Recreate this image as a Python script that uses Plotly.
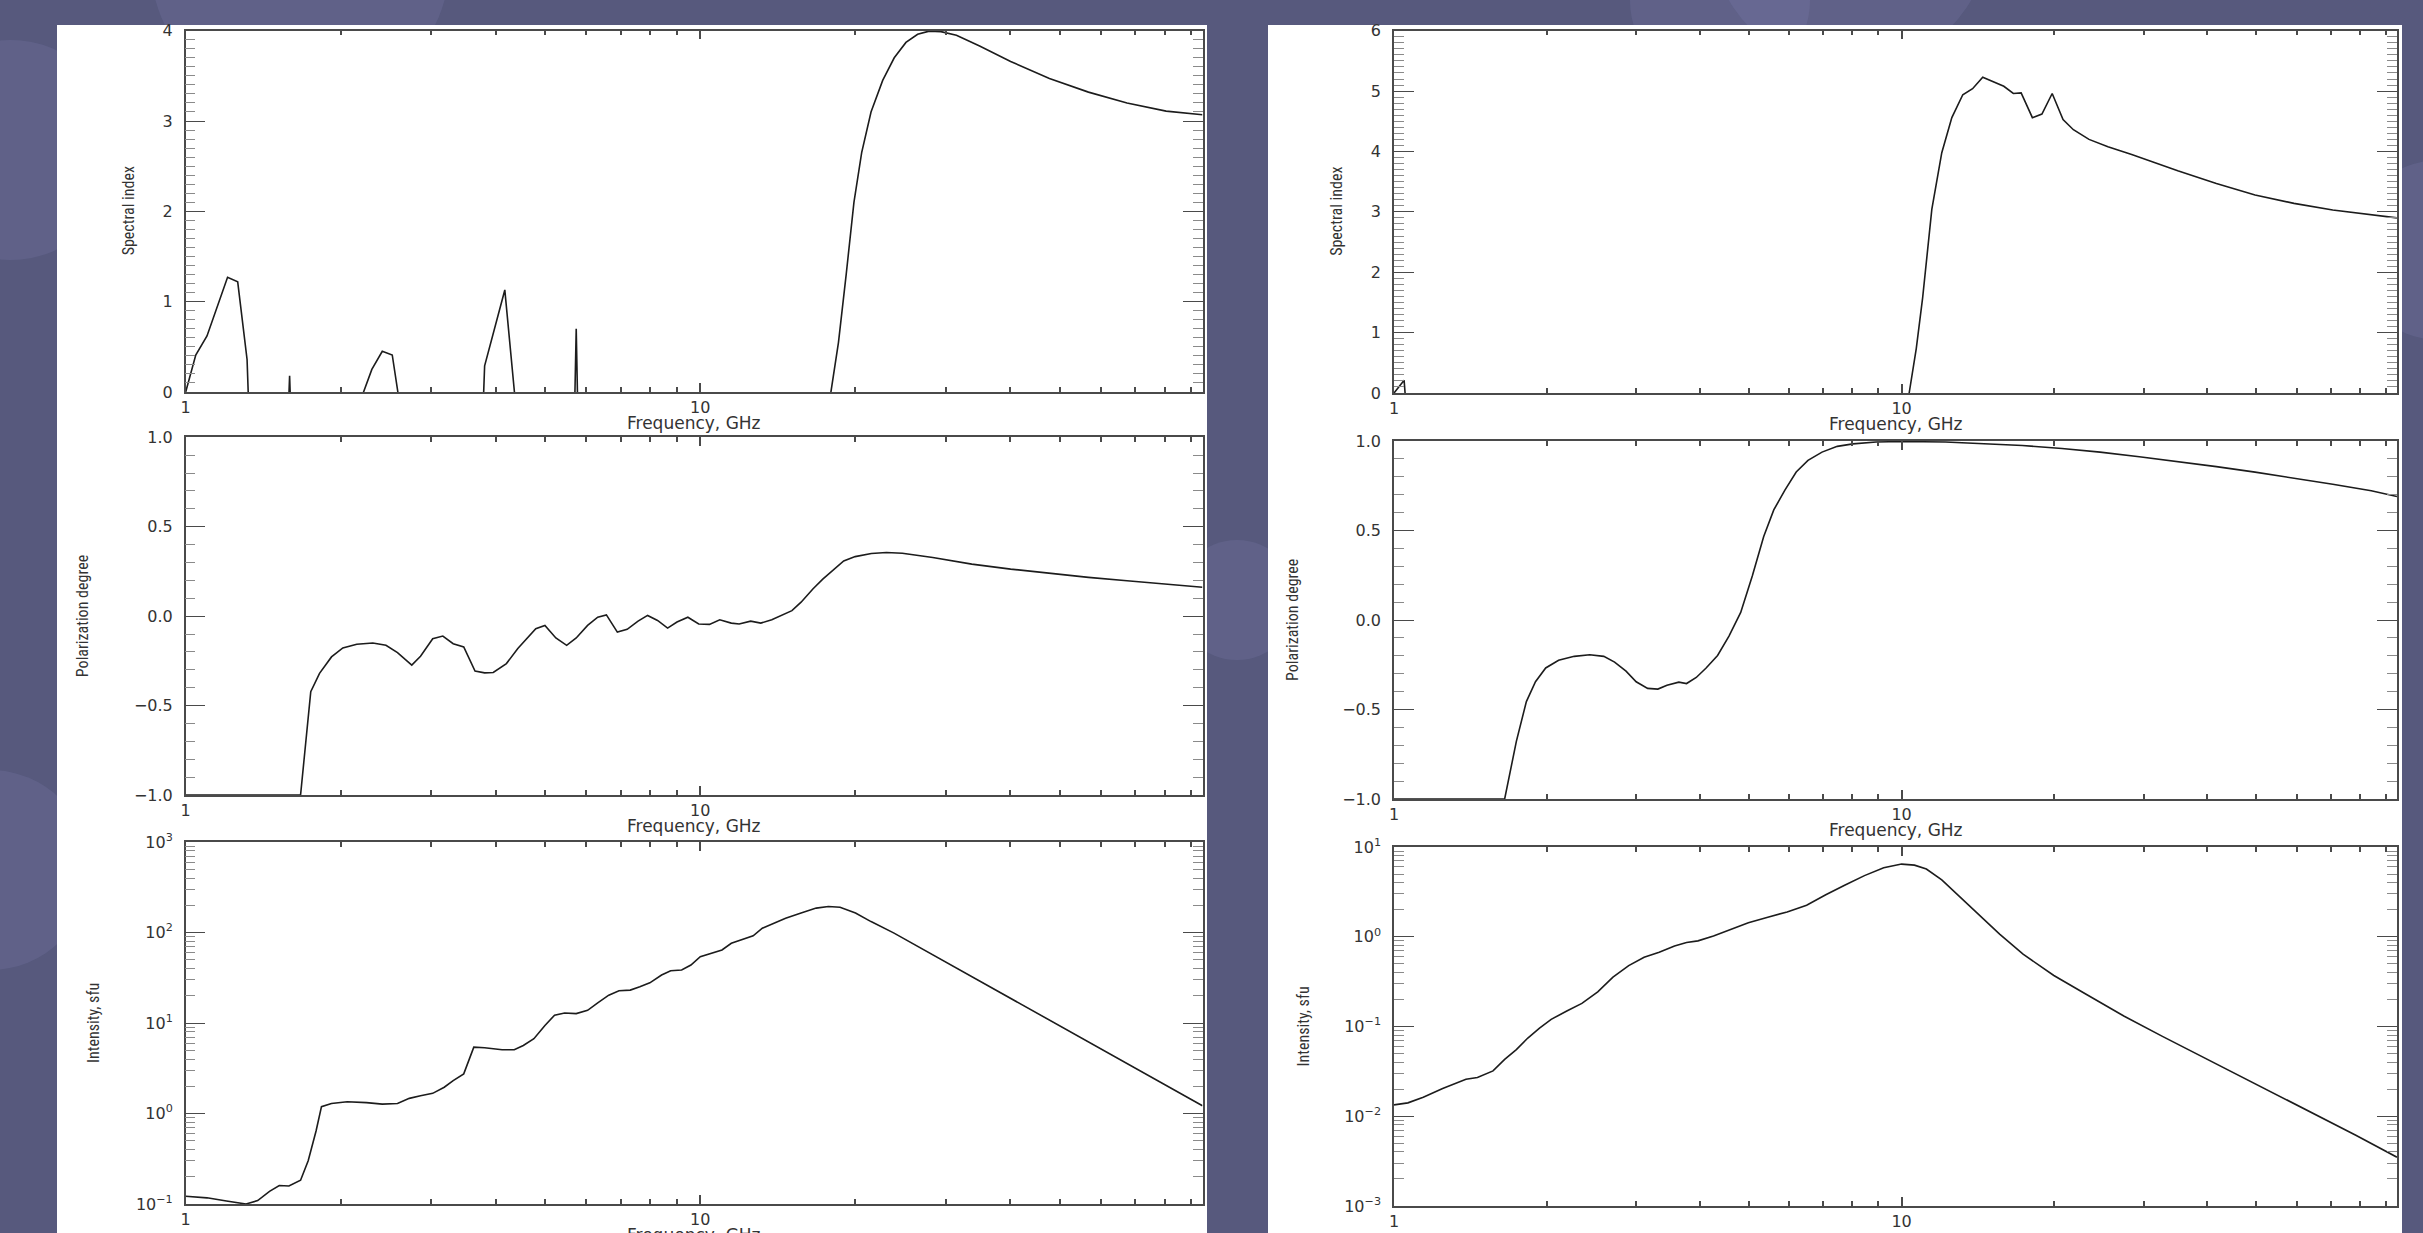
import plotly.graph_objects as go

W, H = 2423, 1233

# ---------------- data ----------------
# Left column
freq_lt = [1.0, 1.046, 1.10, 1.15, 1.206, 1.262, 1.316, 1.38, 1.52, 1.592, 1.66, 2.10, 2.20, 2.30, 2.41,
           2.52, 2.64, 2.80, 3.63, 3.81, 3.99, 4.17, 4.37, 4.60, 5.48, 5.74, 6.00, 17.0, 17.92, 18.56,
           19.21, 19.89, 20.59, 21.47, 22.62, 23.82, 25.1, 26.45, 27.86, 29.35, 31.46, 34.9, 40.1, 47.7,
           56.8, 67.5, 80.4, 94.6]
index_lt = [0.0, 0.41, 0.62, 0.94, 1.27, 1.22, 0.36, -3.0, -3.0, 0.18, -3.0, -3.0, -0.05, 0.25, 0.45,
            0.41, -0.35, -3.0, -3.0, 0.29, 0.71, 1.13, -0.1, -3.0, -5.0, 0.70, -5.0, -2.0, -0.02, 0.55,
            1.3, 2.1, 2.65, 3.1, 3.45, 3.7, 3.87, 3.96, 3.995, 3.99, 3.95, 3.83, 3.66, 3.47,
            3.32, 3.2, 3.11, 3.07]

freq_lm = [1.0, 1.672, 1.75, 1.82, 1.92, 2.02, 2.15, 2.31, 2.45, 2.58, 2.75, 2.86, 3.02, 3.16, 3.31,
           3.47, 3.65, 3.81, 3.96, 4.2, 4.42, 4.79, 4.99, 5.24, 5.50, 5.74, 6.04, 6.32, 6.57, 6.90,
           7.21, 7.57, 7.90, 8.26, 8.64, 9.01, 9.46, 9.93, 10.42, 10.91, 11.49, 11.9, 12.53, 13.11,
           13.77, 14.39, 15.07, 15.7, 16.55, 17.3, 18.2, 19.0, 20.0, 21.5, 23.0, 24.7, 28.3, 33.7,
           40.1, 47.7, 56.8, 67.5, 80.4, 94.6]
pol_lm = [-1.0, -1.0, -0.422, -0.32, -0.228, -0.178, -0.157, -0.15, -0.163, -0.204, -0.274, -0.224,
          -0.126, -0.111, -0.154, -0.172, -0.307, -0.317, -0.315, -0.265, -0.181, -0.07, -0.052,
          -0.122, -0.163, -0.122, -0.052, -0.006, 0.007, -0.089, -0.074, -0.028, 0.004, -0.024,
          -0.067, -0.033, -0.006, -0.044, -0.046, -0.020, -0.039, -0.044, -0.028, -0.039, -0.02,
          0.004, 0.031, 0.078, 0.152, 0.207, 0.263, 0.309, 0.333, 0.35, 0.356, 0.352, 0.328, 0.291,
          0.263, 0.239, 0.217, 0.198, 0.178, 0.162]

freq_lb = [1.0, 1.10, 1.2, 1.31, 1.38, 1.455, 1.52, 1.587, 1.672, 1.73, 1.792, 1.836, 1.92, 2.06, 2.245,
           2.41, 2.58, 2.72, 2.86, 3.02, 3.18, 3.31, 3.47, 3.63, 3.81, 4.12, 4.35, 4.53, 4.75, 4.99,
           5.21, 5.45, 5.74, 6.04, 6.32, 6.64, 6.95, 7.31, 7.63, 7.98, 8.41, 8.76, 9.2, 9.59, 10.0,
           10.53, 11.02, 11.49, 12.1, 12.67, 13.2, 13.9, 14.65, 15.7, 16.8, 17.74, 18.69, 20.03,
           21.47, 23.8, 28.35, 33.7, 40.1, 47.7, 56.8, 67.5, 80.4, 94.6]
flux_lb = [0.122, 0.117, 0.108, 0.1, 0.109, 0.138, 0.16, 0.158, 0.183, 0.30, 0.64, 1.19, 1.29, 1.35,
           1.32, 1.27, 1.29, 1.47, 1.57, 1.67, 1.95, 2.31, 2.74, 5.41, 5.32, 5.06, 5.06, 5.65, 6.7,
           9.4, 12.2, 12.9, 12.7, 13.8, 16.7, 20.3, 22.7, 23.1, 25.1, 27.8, 33.9, 37.8, 38.5, 43.7,
           54.1, 58.9, 64.1, 76.1, 84.3, 91.8, 111.7, 127.0, 144.0, 164.0, 186.0, 194.0, 190.0,
           164.0, 132.0, 98.4, 56.5, 32.4, 18.6, 10.7, 6.15, 3.53, 2.03, 1.22]

# Right column
freq_rt = [1.0, 1.047, 1.096, 10.0, 10.35, 10.69, 11.0, 11.47, 12.0, 12.56, 13.2, 13.8, 14.45, 15.07,
           15.9, 16.6, 17.2, 18.1, 18.9, 19.8, 20.8, 21.8, 23.4, 25.5, 28.4, 35.0, 41.7, 49.7, 59.3,
           70.7, 84.2, 94.6]
index_rt = [0.0, 0.21, -2.0, -2.0, 0.0, 0.74, 1.57, 3.04, 3.98, 4.56, 4.94, 5.04, 5.23, 5.16,
            5.08, 4.96, 4.97, 4.56, 4.62, 4.96, 4.53, 4.36, 4.2, 4.08, 3.95, 3.68, 3.47, 3.28, 3.14,
            3.03, 2.95, 2.9]

freq_rm = [1.0, 1.652, 1.742, 1.823, 1.9, 1.99, 2.11, 2.265, 2.43, 2.59, 2.72, 2.865, 3.0, 3.16, 3.31,
           3.45, 3.64, 3.77, 3.94, 4.12, 4.34, 4.57, 4.82, 5.08, 5.35, 5.6, 5.89, 6.2, 6.54, 6.97,
           7.47, 8.02, 8.91, 10.0, 12.2, 14.6, 17.3, 20.7, 24.6, 29.4, 35.0, 41.7, 49.7, 59.3, 70.7,
           84.2, 94.6]
pol_rm = [-1.0, -1.0, -0.678, -0.456, -0.345, -0.268, -0.225, -0.203, -0.194, -0.203, -0.235, -0.286,
          -0.345, -0.382, -0.386, -0.364, -0.347, -0.355, -0.321, -0.268, -0.198, -0.09, 0.042, 0.246,
          0.467, 0.615, 0.726, 0.827, 0.892, 0.938, 0.97, 0.984, 0.994, 0.997, 0.994, 0.986, 0.975,
          0.958, 0.938, 0.912, 0.886, 0.857, 0.826, 0.793, 0.758, 0.722, 0.69]

freq_rb = [1.0, 1.065, 1.142, 1.247, 1.386, 1.46, 1.567, 1.652, 1.742, 1.835, 1.935, 2.04, 2.19, 2.345,
           2.52, 2.70, 2.9, 3.11, 3.33, 3.57, 3.77, 3.97, 4.26, 4.57, 4.99, 5.45, 5.95, 6.5, 7.09,
           7.74, 8.45, 9.22, 10.0, 10.6, 11.19, 12.0, 12.88, 14.06, 15.6, 17.35, 19.95, 22.96, 27.4,
           32.65, 38.9, 46.4, 55.2, 65.9, 78.5, 94.6]
flux_rb = [0.0134, 0.0141, 0.0163, 0.0204, 0.0259, 0.027, 0.032, 0.043, 0.0553, 0.0744, 0.096, 0.12,
           0.149, 0.181, 0.243, 0.355, 0.477, 0.59, 0.67, 0.79, 0.863, 0.9, 1.02, 1.18, 1.43, 1.65,
           1.89, 2.24, 2.94, 3.78, 4.8, 5.87, 6.45, 6.28, 5.68, 4.3, 2.94, 1.85, 1.07, 0.64, 0.37,
           0.233, 0.131, 0.0776, 0.0467, 0.0282, 0.017, 0.0102, 0.00615, 0.0035]

x_tick_vals = [1, 10]
x_tick_text = ["1", "10"]
x_minor_vals = [2, 3, 4, 5, 6, 7, 8, 9, 20, 30, 40, 50, 60, 70, 80, 90]
x_title = "Frequency, GHz"
y_titles = ["Spectral index", "Polarization degree", "Intensity, sfu"]
log_lb_vals = [0.1, 1, 10, 100, 1000]
log_lb_text = ["10<sup>−1</sup>", "10<sup>0</sup>", "10<sup>1</sup>", "10<sup>2</sup>", "10<sup>3</sup>"]
log_rb_vals = [0.001, 0.01, 0.1, 1, 10]
log_rb_text = ["10<sup>−3</sup>", "10<sup>−2</sup>", "10<sup>−1</sup>", "10<sup>0</sup>", "10<sup>1</sup>"]

# ---------------- layout geometry (pixels) ----------------
LX = (185.7, 1202.5)
RX = (1394.0, 2397.0)
L_ROWS = [(30.7, 392.0), (437.3, 795.0), (842.0, 1204.0)]
R_ROWS = [(30.7, 393.0), (441.0, 799.0), (847.0, 1206.0)]
L_YTITLE_X = (128, 82, 93)
R_YTITLE_X = (1337, 1292, 1303)

def xd(a, b):
    return [a / W, b / W]

def yd(t, b):
    return [1 - b / H, 1 - t / H]

LINE = dict(color="#1c1c1c", width=1.6)
TICKFONT = dict(family="DejaVu Sans", size=16, color="#333333")
AXCOL = "#4a4a4a"

fig = go.Figure()
panels = [
    (freq_lt, index_lt), (freq_lm, pol_lm), (freq_lb, flux_lb),
    (freq_rt, index_rt), (freq_rm, pol_rm), (freq_rb, flux_rb),
]
for i, (fx, fy) in enumerate(panels):
    n = "" if i == 0 else str(i + 1)
    fig.add_trace(go.Scatter(x=fx, y=fy, mode="lines", line=LINE, xaxis="x" + n, yaxis="y" + n,
                             showlegend=False, hoverinfo="skip"))

layout = dict(width=W, height=H, margin=dict(l=0, r=0, t=0, b=0, autoexpand=False),
              paper_bgcolor="#57597d", plot_bgcolor="rgba(0,0,0,0)", showlegend=False)

geo = [(LX, L_ROWS[0]), (LX, L_ROWS[1]), (LX, L_ROWS[2]),
       (RX, R_ROWS[0]), (RX, R_ROWS[1]), (RX, R_ROWS[2])]
yranges = [[0, 4], [-1, 1], [-1, 3], [0, 6], [-1, 1], [-3, 1]]
for i, ((xa, xb), (yt, yb)) in enumerate(geo):
    n = "" if i == 0 else str(i + 1)
    layout["xaxis" + n] = dict(
        type="log", range=[0, 1.976], domain=xd(xa, xb), anchor="y" + n, automargin=False,
        showline=True, linecolor=AXCOL, linewidth=1.5, mirror="allticks",
        ticks="inside", ticklen=9, tickwidth=1.5, tickcolor=AXCOL,
        tickvals=x_tick_vals, ticktext=x_tick_text, tickfont=TICKFONT,
        showgrid=False, zeroline=False, fixedrange=True,
        minor=dict(tickmode="array", tickvals=x_minor_vals, ticks="inside", ticklen=5,
                   tickwidth=1.5, tickcolor=AXCOL, showgrid=False),
    )
    ydict = dict(
        domain=yd(yt, yb), anchor="x" + n, range=yranges[i], automargin=False,
        showline=True, linecolor=AXCOL, linewidth=1.5, mirror="allticks",
        ticks="inside", ticklen=20, tickwidth=1.3, tickcolor=AXCOL,
        tickfont=TICKFONT, showgrid=False, zeroline=False, fixedrange=True,
        ticklabelstandoff=8,
    )
    if i in (2, 5):
        ydict["type"] = "log"
        vals = log_lb_vals if i == 2 else log_rb_vals
        txt = log_lb_text if i == 2 else log_rb_text
        ydict["tickvals"] = vals
        ydict["ticktext"] = txt
        mv = []
        for v in vals[:-1]:
            mv += [v * k for k in range(2, 10)]
        ydict["minor"] = dict(tickmode="array", tickvals=mv, ticks="inside", ticklen=10,
                              tickwidth=1.3, tickcolor="#8a8a8a", showgrid=False)
    elif i in (1, 4):
        ydict["dtick"] = 0.5
        ydict["tickformat"] = ".1f"
        ydict["minor"] = dict(dtick=0.1, ticks="inside", ticklen=10, tickwidth=1.3,
                              tickcolor="#8a8a8a", showgrid=False)
    else:
        ydict["dtick"] = 1
        ydict["minor"] = dict(dtick=0.1, ticks="inside", ticklen=10, tickwidth=1.3,
                              tickcolor="#8a8a8a", showgrid=False)
    layout["yaxis" + n] = ydict

# background: faint bubbles and white panels
shapes = []
bub = "rgba(140,142,200,0.16)"
for (cx, cy, r) in [(300, -40, 150), (10, 150, 110), (-10, 870, 100), (1850, -70, 140),
                    (2440, 250, 90), (1237, 600, 60), (1720, 0, 90)]:
    shapes.append(dict(type="circle", xref="paper", yref="paper", layer="below",
                       x0=(cx - r) / W, x1=(cx + r) / W, y0=1 - (cy + r) / H, y1=1 - (cy - r) / H,
                       fillcolor=bub, line=dict(width=0)))
for (x0, x1) in [(57, 1207), (1268, 2402)]:
    shapes.append(dict(type="rect", xref="paper", yref="paper", layer="below",
                       x0=x0 / W, x1=x1 / W, y0=-0.01, y1=1 - 25 / H,
                       fillcolor="white", line=dict(width=0)))
layout["shapes"] = shapes

ann = []
TITLEFONT = dict(family="DejaVu Sans", size=17, color="#333333")
YTFONT = dict(family="Liberation Sans Narrow, Roboto Condensed, DejaVu Sans Condensed, sans-serif",
              size=16, color="#333333")
for (xa, xb), rows, ypos, boff in [(LX, L_ROWS, L_YTITLE_X, (31, 31, 31)),
                                   (RX, R_ROWS, R_YTITLE_X, (31, 31, 46))]:
    for k, (yt, yb) in enumerate(rows):
        ann.append(dict(text=x_title, xref="paper", yref="paper", x=(xa + xb) / 2 / W,
                        y=1 - (yb + boff[k]) / H, showarrow=False, font=TITLEFONT,
                        xanchor="center", yanchor="middle"))
        ann.append(dict(text=y_titles[k], xref="paper", yref="paper", x=ypos[k] / W,
                        y=1 - (yt + yb) / 2 / H, showarrow=False, font=YTFONT, textangle=-90,
                        xanchor="center", yanchor="middle"))
layout["annotations"] = ann

fig.update_layout(**layout)
fig.write_html("out.html", config={"displayModeBar": False},
               post_script="document.body.style.margin='0';document.body.style.overflow='hidden';")
